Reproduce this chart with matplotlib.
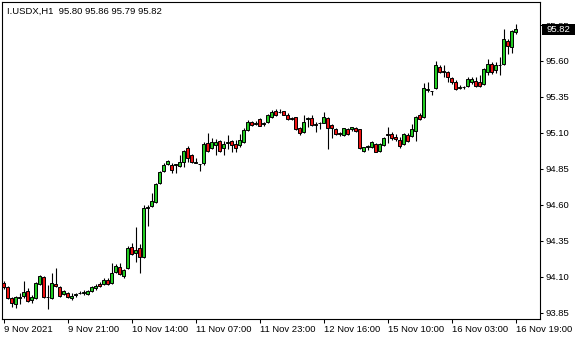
import matplotlib.pyplot as plt
import matplotlib.patches as mpatches
import numpy as np

plt.rcParams['font.family'] = ['Liberation Sans', 'DejaVu Sans']

# I.USDX H1 bars, 9 Nov 2021 -> 16 Nov 2021 19:00
opens = [94.06, 94.03, 93.955, 93.91, 93.955, 93.97, 94.0, 93.94, 93.955, 94.05,
         94.10, 93.96, 93.955, 94.051, 94.03, 93.98, 93.99, 93.955, 93.975, 93.99,
         93.992, 93.982, 94.003, 94.024, 94.05, 94.05, 94.079, 94.058, 94.135, 94.169,
         94.107, 94.163, 94.308, 94.267, 94.301, 94.239, 94.579, 94.593, 94.621, 94.753,
         94.836, 94.885, 94.878, 94.878, 94.871, 94.899, 94.996, 94.947, 94.895, 94.885,
         94.892, 95.031, 94.996, 95.017, 95.044, 94.996, 95.031, 95.044, 95.024, 95.017,
         95.037, 95.121, 95.176, 95.165, 95.197, 95.163, 95.176, 95.211, 95.253, 95.246,
         95.253, 95.225, 95.204, 95.211, 95.135, 95.107, 95.2, 95.204, 95.16, 95.166,
         95.169, 95.204, 95.156, 95.128, 95.097, 95.086, 95.128, 95.128, 95.135, 95.128,
         94.975, 95.005, 95.003, 95.024, 94.975, 95.017, 95.09, 95.093, 95.072, 95.051,
         95.024, 95.086, 95.079, 95.114, 95.225, 95.211, 95.40, 95.395, 95.413, 95.558,
         95.527, 95.524, 95.482, 95.454, 95.415, 95.418, 95.426, 95.454, 95.461, 95.454,
         95.44, 95.524, 95.579, 95.538, 95.574, 95.579, 95.739, 95.697, 95.80]
highs = [94.07, 94.04, 93.96, 93.97, 93.99, 94.07, 94.024, 93.975, 94.065, 94.115,
         94.11, 94.045, 94.128, 94.163, 94.038, 94.01, 93.996, 93.99, 93.99, 94.0,
         94.01, 94.01, 94.04, 94.05, 94.065, 94.09, 94.09, 94.197, 94.19, 94.197,
         94.155, 94.315, 94.336, 94.447, 94.329, 94.60, 94.60, 94.683, 94.753, 94.836,
         94.892, 94.913, 94.892, 94.885, 94.947, 94.982, 95.01, 94.954, 94.926, 94.885,
         95.037, 95.10, 95.065, 95.058, 95.051, 95.044, 95.086, 95.051, 95.051, 95.093,
         95.135, 95.19, 95.183, 95.183, 95.204, 95.176, 95.232, 95.26, 95.267, 95.267,
         95.256, 95.239, 95.211, 95.214, 95.142, 95.225, 95.211, 95.225, 95.176, 95.176,
         95.246, 95.211, 95.163, 95.135, 95.107, 95.135, 95.135, 95.142, 95.142, 95.131,
         95.003, 95.017, 95.044, 95.031, 95.031, 95.072, 95.142, 95.107, 95.093, 95.072,
         95.10, 95.10, 95.163, 95.218, 95.239, 95.447, 95.454, 95.395, 95.60, 95.572,
         95.572, 95.531, 95.489, 95.468, 95.433, 95.426, 95.489, 95.489, 95.489, 95.503,
         95.551, 95.614, 95.593, 95.593, 95.628, 95.822, 95.753, 95.815, 95.86]
lows = [94.02, 93.95, 93.89, 93.885, 93.91, 93.955, 93.926, 93.92, 93.948, 94.045,
        93.955, 93.878, 93.95, 94.03, 93.96, 93.975, 93.955, 93.94, 93.96, 93.982,
        93.975, 93.975, 93.996, 94.01, 94.03, 94.044, 94.044, 94.05, 94.128, 94.115,
        94.09, 94.155, 94.253, 94.204, 94.128, 94.232, 94.454, 94.586, 94.614, 94.746,
        94.829, 94.878, 94.822, 94.822, 94.864, 94.864, 94.899, 94.892, 94.889, 94.836,
        94.878, 94.968, 94.989, 94.947, 94.968, 94.947, 94.989, 94.968, 94.968, 95.003,
        95.031, 95.114, 95.149, 95.156, 95.149, 95.149, 95.169, 95.204, 95.218, 95.239,
        95.222, 95.19, 95.19, 95.121, 95.086, 95.10, 95.142, 95.149, 95.107, 95.128,
        95.169, 94.989, 95.065, 95.086, 95.079, 95.079, 95.086, 95.114, 95.107, 94.989,
        94.968, 94.982, 94.996, 94.968, 94.968, 95.01, 95.031, 95.051, 95.044, 94.996,
        95.017, 95.037, 95.072, 95.044, 95.19, 95.204, 95.385, 95.364, 95.406, 95.517,
        95.489, 95.454, 95.44, 95.399, 95.406, 95.406, 95.419, 95.44, 95.419, 95.419,
        95.433, 95.503, 95.51, 95.517, 95.503, 95.572, 95.649, 95.656, 95.79]
closes = [94.03, 93.955, 93.92, 93.96, 93.96, 93.995, 93.933, 93.96, 94.058, 94.107,
          93.96, 93.962, 94.058, 94.038, 93.968, 94.0, 93.961, 93.968, 93.982, 93.992,
          93.995, 94.003, 94.031, 94.038, 94.038, 94.079, 94.05, 94.128, 94.176, 94.121,
          94.149, 94.301, 94.26, 94.287, 94.239, 94.579, 94.586, 94.628, 94.746, 94.829,
          94.878, 94.906, 94.843, 94.882, 94.899, 94.975, 94.926, 94.899, 94.898, 94.882,
          95.024, 94.975, 95.037, 95.037, 94.975, 95.024, 95.035, 95.017, 94.996, 95.051,
          95.121, 95.176, 95.156, 95.17, 95.149, 95.166, 95.225, 95.246, 95.225, 95.244,
          95.225, 95.197, 95.197, 95.128, 95.10, 95.176, 95.203, 95.156, 95.158, 95.168,
          95.211, 95.135, 95.135, 95.093, 95.095, 95.135, 95.093, 95.142, 95.114, 94.996,
          95.003, 95.008, 95.037, 94.968, 95.024, 95.065, 95.086, 95.065, 95.058, 95.01,
          95.093, 95.044, 95.128, 95.211, 95.197, 95.413, 95.406, 95.39, 95.572, 95.524,
          95.53, 95.489, 95.454, 95.406, 95.418, 95.416, 95.475, 95.475, 95.426, 95.426,
          95.544, 95.579, 95.524, 95.572, 95.57, 95.753, 95.704, 95.808, 95.82]

time_labels = ['9 Nov 2021', '9 Nov 21:00', '10 Nov 14:00', '11 Nov 07:00',
               '11 Nov 23:00', '12 Nov 16:00', '15 Nov 10:00', '16 Nov 03:00',
               '16 Nov 19:00']
price_ticks = [93.85, 94.10, 94.35, 94.60, 94.85, 95.10, 95.35, 95.60, 95.85]

o = np.array(opens)
h = np.array(highs)
l = np.array(lows)
c = np.array(closes)
x = np.arange(len(o))

fig = plt.figure(figsize=(5.8, 3.4), dpi=100)
W, H = 580.0, 340.0
ax = fig.add_axes([1.5 / W, 1 - 319 / H, (540 - 1.5) / W, (319 - 1.5) / H])
ax.set_xlim(-0.5, 134.125)
ax.set_ylim(93.8083, 96.0132)

up = c >= o
colors = np.where(up, '#22cc22', '#ee1111')
ax.vlines(x, l, h, color='black', linewidth=0.8, zorder=2)
ax.bar(x, c - o, bottom=o, width=0.62, color=colors, edgecolor='black',
       linewidth=0.7, zorder=3)

for s in ax.spines.values():
    s.set_linewidth(0.8)
    s.set_color('black')

ax.yaxis.tick_right()
ax.set_yticks(price_ticks)
ax.set_yticklabels(['%.2f' % p for p in price_ticks])
ax.tick_params(axis='y', direction='out', length=2.5, width=0.75, pad=1.8,
               labelsize=6.8, colors='black')

ax.set_xticks(range(0, len(o), 16))
ax.set_xticklabels(time_labels)
ax.tick_params(axis='x', direction='out', length=3, width=0.75, pad=1.6,
               labelsize=6.8, colors='black')
for lbl in ax.get_xticklabels():
    lbl.set_horizontalalignment('left')

# last price marker on the scale
last = c[-1]
tr = ax.get_yaxis_transform()
box = mpatches.Rectangle((1.0037, last - 5.5 / 144), 0.0613, 11 / 144,
                         transform=tr, facecolor='black', edgecolor='none',
                         clip_on=False, zorder=10)
ax.add_patch(box)
ax.text(1.0112, last, '%.2f' % last, transform=tr, color='white', fontsize=6.8,
        va='center', ha='left', zorder=11, clip_on=False)

fig.text(7 / W, 1 - 11 / H,
         'I.USDX,H1  %.2f %.2f %.2f %.2f' % (o[-1], h[-1], l[-1], c[-1]),
         fontsize=6.8, va='center', ha='left', color='black')

fig.savefig('out.png', dpi=100)
